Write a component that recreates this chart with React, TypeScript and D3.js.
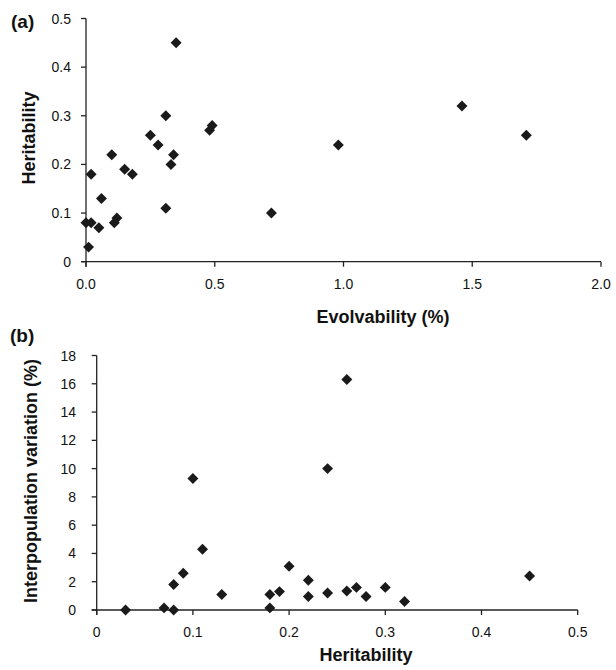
import React from 'react';
import * as d3 from 'd3';

// Panel (a): evolvability (%) vs heritability
const evolvabilityA = [0.35, 0.31, 0.25, 0.28, 0.34, 0.33, 0.48, 0.49, 0.10, 0.15, 0.18, 0.02, 0.06, 0.31, 0.12, 0.11, 0.00, 0.02, 0.05, 0.01, 0.72, 0.98, 1.46, 1.71];
const heritabilityA = [0.45, 0.30, 0.26, 0.24, 0.22, 0.20, 0.27, 0.28, 0.22, 0.19, 0.18, 0.18, 0.13, 0.11, 0.09, 0.08, 0.08, 0.08, 0.07, 0.03, 0.10, 0.24, 0.32, 0.26];

// Panel (b): heritability vs interpopulation variation (%)
const heritabilityB = [0.03, 0.07, 0.08, 0.08, 0.09, 0.10, 0.11, 0.13, 0.18, 0.18, 0.19, 0.20, 0.22, 0.22, 0.26, 0.24, 0.24, 0.26, 0.27, 0.28, 0.30, 0.32, 0.45];
const interpopB = [0.0, 0.15, 0.0, 1.8, 2.6, 9.3, 4.3, 1.1, 1.1, 0.15, 1.3, 3.1, 2.1, 0.95, 16.3, 10.0, 1.2, 1.35, 1.6, 0.95, 1.6, 0.6, 2.4];

const ticksAX = [0, 0.5, 1.0, 1.5, 2.0];
const ticksAY = [0, 0.1, 0.2, 0.3, 0.4, 0.5];
const ticksBX = [0, 0.1, 0.2, 0.3, 0.4, 0.5];
const ticksBY = [0, 2, 4, 6, 8, 10, 12, 14, 16, 18];

const FONT = '"Liberation Sans", Arial, Helvetica, sans-serif';
const AXIS = '#222';
const MARK = '#1a1a1a';

const diamond = d3.symbol().type(d3.symbolSquare).size(60)();

function fmtA_x(v: number) { return d3.format('.1f')(v); }
function fmtGen(v: number) { return v === 0 ? '0' : String(+v.toFixed(2)); }

type PanelProps = {
  xs: number[]; ys: number[];
  xDomain: [number, number]; yDomain: [number, number];
  xRange: [number, number]; yRange: [number, number];
  xTicks: number[]; yTicks: number[];
  fx: (v: number) => string; fy: (v: number) => string;
  yLabelRight: number;
};

function Panel(p: PanelProps) {
  const x = d3.scaleLinear().domain(p.xDomain).range(p.xRange);
  const y = d3.scaleLinear().domain(p.yDomain).range(p.yRange);
  const x0 = p.xRange[0];
  const y0 = p.yRange[0];
  return (
    <g>
      <line x1={x0} x2={x0} y1={p.yRange[1]} y2={y0 + 5} stroke={AXIS} strokeWidth={1.3} />
      <line x1={x0 - 5} x2={p.xRange[1]} y1={y0} y2={y0} stroke={AXIS} strokeWidth={1.3} />
      {p.yTicks.map((t) => (
        <g key={'y' + t}>
          <line x1={x0 - 5} x2={x0} y1={y(t)} y2={y(t)} stroke={AXIS} strokeWidth={1.3} />
          <text x={p.yLabelRight} y={y(t)} dy="0.36em" textAnchor="end" fontSize={14} fontFamily={FONT} fill="#111">{p.fy(t)}</text>
        </g>
      ))}
      {p.xTicks.map((t) => (
        <g key={'x' + t}>
          <line x1={x(t)} x2={x(t)} y1={y0} y2={y0 + 5} stroke={AXIS} strokeWidth={1.3} />
          <text x={x(t)} y={y0 + 27} textAnchor="middle" fontSize={14} fontFamily={FONT} fill="#111">{p.fx(t)}</text>
        </g>
      ))}
      {p.xs.map((v, i) => (
        <path key={'p' + i} d={diamond} transform={`translate(${x(v)},${y(p.ys[i])}) rotate(45)`} fill={MARK} />
      ))}
    </g>
  );
}

export default function App() {
  return (
    <svg width={616} height={670} style={{ position: 'absolute', left: 0, top: 0, background: '#fff' }}>
      <rect width={616} height={670} fill="#fff" />
      <text x={11} y={28} fontSize={19} fontWeight="bold" fontFamily={FONT} fill="#111">(a)</text>
      <Panel
        xs={evolvabilityA} ys={heritabilityA}
        xDomain={[0, 2]} yDomain={[0, 0.5]}
        xRange={[86, 601]} yRange={[261.7, 18.5]}
        xTicks={ticksAX} yTicks={ticksAY}
        fx={fmtA_x} fy={fmtGen}
        yLabelRight={71}
      />
      <text transform="translate(35,138) rotate(-90)" textAnchor="middle" fontSize={18} fontWeight="bold" fontFamily={FONT} fill="#111">Heritability</text>
      <text x={383} y={323} textAnchor="middle" fontSize={18} fontWeight="bold" fontFamily={FONT} fill="#111">Evolvability (%)</text>

      <text x={10} y={342} fontSize={19} fontWeight="bold" fontFamily={FONT} fill="#111">(b)</text>
      <Panel
        xs={heritabilityB} ys={interpopB}
        xDomain={[0, 0.5]} yDomain={[0, 18]}
        xRange={[96.7, 577.7]} yRange={[610, 355.5]}
        xTicks={ticksBX} yTicks={ticksBY}
        fx={fmtGen} fy={(v) => String(v)}
        yLabelRight={76}
      />
      <text transform="translate(37,481) rotate(-90)" textAnchor="middle" fontSize={18} fontWeight="bold" fontFamily={FONT} fill="#111">Interpopulation variation (%)</text>
      <text x={366} y={661} textAnchor="middle" fontSize={18} fontWeight="bold" fontFamily={FONT} fill="#111">Heritability</text>
    </svg>
  );
}
